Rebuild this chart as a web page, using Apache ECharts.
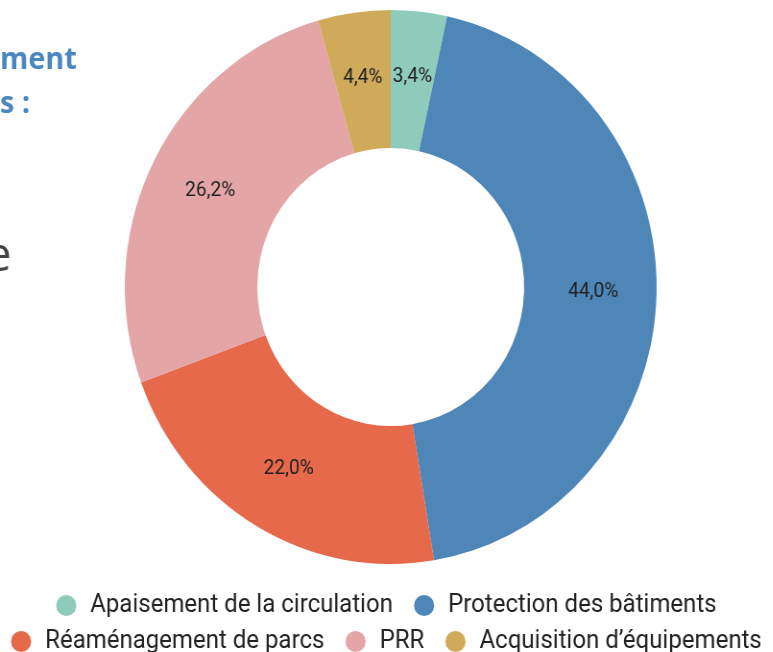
<!DOCTYPE html>
<html>
<head>
<meta charset="utf-8">
<script src="https://cdn.jsdelivr.net/npm/echarts@6/dist/echarts.min.js"></script>
<style>
  html, body { margin: 0; padding: 0; background: #fff; overflow: hidden; }
  /* l'image d'origine est légèrement comprimée en largeur */
  #chart { width: 805px; height: 652px; transform: scaleX(0.96); transform-origin: 0 0; }
</style>
</head>
<body>
<div id="chart"></div>
<script>
// catégories et parts (%)
var categories = ['Apaisement de la circulation', 'Protection des bâtiments', 'Réaménagement de parcs', 'PRR', 'Acquisition d’équipements'];
var values = [3.4, 44.0, 22.0, 26.2, 4.4];
var colors = ['#8ecbbb', '#4e86b8', '#e6694b', '#e3a5a5', '#cfaa5a'];

var myChart = echarts.init(document.getElementById('chart'));

var legendBase = {
  orient: 'horizontal',
  left: 'center',
  icon: 'circle',
  itemWidth: 40,
  itemHeight: 21,
  itemGap: 22,
  selectedMode: false,
  textStyle: { fontFamily: 'Roboto', fontSize: 25, color: '#222' }
};

var option = {
  color: colors,
  // morceaux de texte de la page autour du graphique
  graphic: [
    { type: 'text', left: 0, top: 45, style: { text: 'ment', font: 'bold 30px "Open Sans"', fill: '#4a86c0' } },
    { type: 'text', left: 0, top: 89, style: { text: 's :', font: 'bold 30px "Open Sans"', fill: '#4a86c0' } },
    { type: 'text', left: -15, top: 233, style: { text: 'e', font: '48px "Open Sans"', fill: '#444' } }
  ],
  legend: [
    Object.assign({}, legendBase, { top: 588, data: categories.slice(0, 2) }),
    Object.assign({}, legendBase, { top: 624, data: categories.slice(2) })
  ],
  series: [
    {
      type: 'pie',
      center: [407, 287],
      radius: [139, 277],
      startAngle: 90,
      clockwise: true,
      avoidLabelOverlap: false,
      label: {
        show: true,
        position: 'inside',
        fontFamily: 'Roboto',
        fontSize: 20,
        color: '#222',
        formatter: function (p) { return p.value.toFixed(1).replace('.', ',') + '%'; }
      },
      labelLine: { show: false },
      emphasis: { disabled: true },
      data: categories.map(function (c, i) { return { name: c, value: values[i] }; })
    }
  ]
};
option && myChart.setOption(option);
</script>
</body>
</html>
